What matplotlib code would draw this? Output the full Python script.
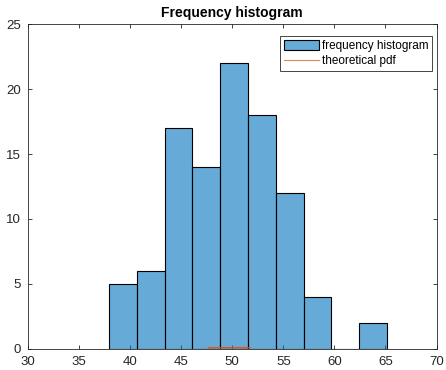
import numpy as np
import matplotlib
matplotlib.use("Agg")
import matplotlib.pyplot as plt
from matplotlib.patches import Patch
from matplotlib.lines import Line2D

# Data
bin_edges = [37.94, 40.66, 43.38, 46.10, 48.82, 51.54, 54.26, 56.98, 59.70, 62.42, 65.13]
counts = [5, 6, 17, 14, 22, 18, 12, 4, 0, 2]
pdf_mean = 50.0
pdf_std = 5.5
pdf_x_range = [47.6, 51.8]   # visible part of the theoretical pdf
x_ticks = [30, 35, 40, 45, 50, 55, 60, 65, 70]
y_ticks = [0, 5, 10, 15, 20, 25]

plt.rcParams['font.family'] = ['Liberation Sans', 'DejaVu Sans']

fig = plt.figure(figsize=(4.46, 3.70), dpi=100)
ax = fig.add_axes([28/446, 1 - 348.7/370, (436.5 - 28)/446, (348.7 - 24.3)/370])

edges = np.array(bin_edges)
widths = np.diff(edges)
ax.bar(edges[:-1], counts, width=widths, align='edge',
       color=(0, 0.447, 0.741, 0.6), edgecolor='black', linewidth=0.8, zorder=2)

xs = np.linspace(pdf_x_range[0], pdf_x_range[1], 100)
pdf = np.exp(-0.5 * ((xs - pdf_mean) / pdf_std) ** 2) / (pdf_std * np.sqrt(2 * np.pi))
red = (0.85, 0.325, 0.098)
ax.plot(xs, pdf, color=red, linewidth=1.0, zorder=2.5, solid_capstyle='butt')

ax.set_xlim(30, 70)
ax.set_ylim(0, 25)
ax.set_xticks(x_ticks)
ax.set_yticks(y_ticks)
gray = (0.15, 0.15, 0.15)
ax.tick_params(direction='in', length=3, width=0.6, top=True, right=True,
               labelsize=9.5, colors=gray, pad=5)
for s in ax.spines.values():
    s.set_color(gray)
    s.set_linewidth(0.6)
    s.set_zorder(3)

ax.set_title("Frequency histogram", fontsize=10, fontweight='bold', pad=5, color='black')

handles = [Patch(facecolor=(0, 0.447, 0.741, 0.6), edgecolor='black', linewidth=0.8),
           Line2D([0], [0], color=red, linewidth=0.8, alpha=0.7)]
leg = ax.legend(handles, ["frequency histogram", "theoretical pdf"],
                loc='upper right', bbox_to_anchor=(0.99, 0.965), fontsize=8.5,
                fancybox=False, framealpha=1, edgecolor=gray,
                handlelength=3.0, handleheight=0.9, handletextpad=0.2,
                borderpad=0.35, labelspacing=0.3, borderaxespad=0.0)
leg.get_frame().set_linewidth(0.6)

fig.savefig("out.png", dpi=100)
